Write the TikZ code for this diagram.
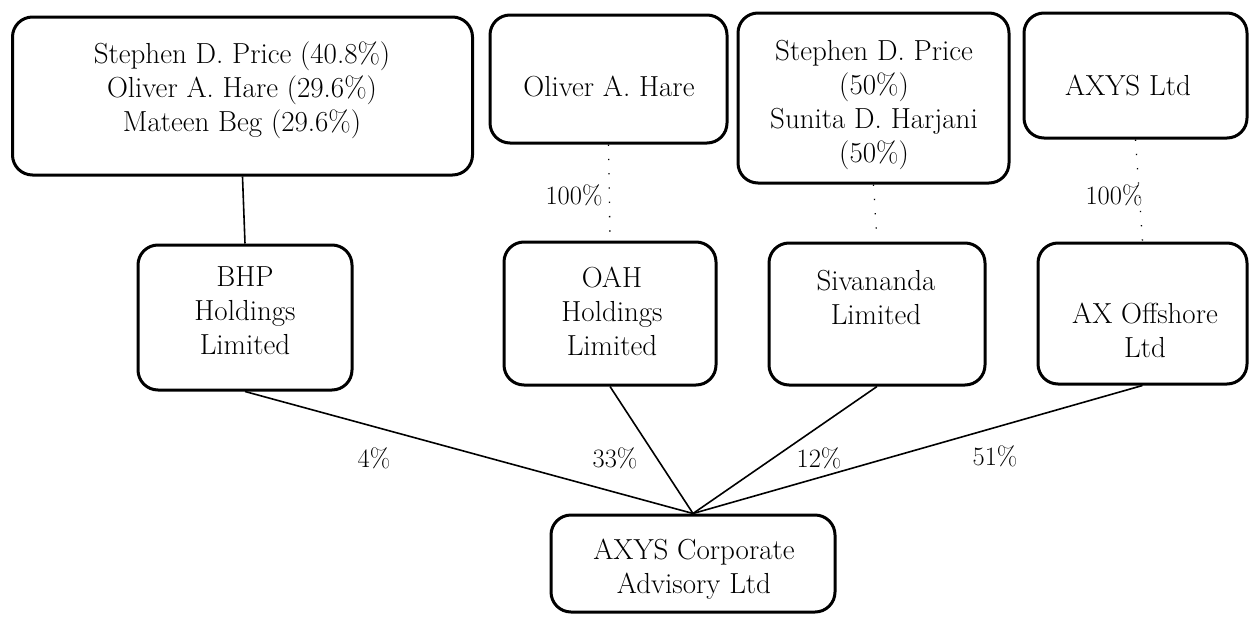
\documentclass[tikz,border=0pt]{standalone}
\begin{document}
\begin{tikzpicture}[x=1pt,y=-1pt,
  box/.style={draw, line width=3pt, rounded corners=20pt, inner sep=0pt},
  txt/.style={align=center, font=\fontsize{29}{34}\selectfont, inner sep=0pt},
  pct/.style={font=\fontsize{26.5}{30}\selectfont, inner sep=0pt},
  link/.style={line width=1.6pt},
  faint/.style={line width=1.3pt, dash pattern=on 1.3pt off 13pt}]
\useasboundingbox (0,0) rectangle (1250,616);
% top row
\node[box, minimum width=460pt, minimum height=158pt] (own1) at (242.5,96) {};
\node[box, minimum width=237pt, minimum height=128pt] (own2) at (608.5,79) {};
\node[box, minimum width=271pt, minimum height=170pt] (own3) at (873.5,98) {};
\node[box, minimum width=223pt, minimum height=125pt] (own4) at (1135.5,75.5) {};
% middle row
\node[box, minimum width=214pt, minimum height=145pt] (bhp) at (245,317.5) {};
\node[box, minimum width=212pt, minimum height=143pt] (oah) at (610,313.5) {};
\node[box, minimum width=216pt, minimum height=142pt] (siv) at (877,314) {};
\node[box, minimum width=209pt, minimum height=141pt] (axo) at (1142.5,313.5) {};
% bottom
\node[box, minimum width=284pt, minimum height=97pt] (acad) at (693,563.5) {};
% texts
\node[txt] (own1t) at (242,90) {Stephen D. Price (40.8\%)\\Oliver A. Hare (29.6\%)\\Mateen Beg (29.6\%)};
\node[txt] (own2t) at (609,86) {Oliver A. Hare};
\node[txt] (own3t) at (874,105) {Stephen D. Price\\(50\%)\\Sunita D. Harjani\\(50\%)};
\node[txt] (own4t) at (1128,85) {AXYS Ltd};
\node[txt] (bhpt) at (245,311) {BHP\\Holdings\\Limited};
\node[txt] (oaht) at (612,311) {OAH\\Holdings\\Limited};
\node[txt] (sivt) at (876,297) {Sivananda\\Limited};
\node[txt] (axot) at (1145,330) {AX Offshore\\Ltd};
\node[txt] (acadt) at (694,569) {AXYS Corporate\\Advisory Ltd};
% connectors
\draw[link] (own1.south) -- (bhp.north);
\draw[faint] (own2.south) -- (oah.north);
\draw[faint] (own3.south) -- (siv.north);
\draw[faint] (own4.south) -- (axo.north);
\draw[link] (bhp.south) -- (acad.north);
\draw[link] (oah.south) -- (acad.north);
\draw[link] (siv.south) -- (acad.north);
\draw[link] (axo.south) -- (acad.north);
% labels
\node[pct] (l100a) at (574,195) {100\%};
\node[pct] (l100b) at (1114,195) {100\%};
\node[pct] (l4) at (374,458) {4\%};
\node[pct] (l33) at (615,458) {33\%};
\node[pct] (l12) at (819,458) {12\%};
\node[pct] (l51) at (995,456) {51\%};
\end{tikzpicture}
\end{document}
